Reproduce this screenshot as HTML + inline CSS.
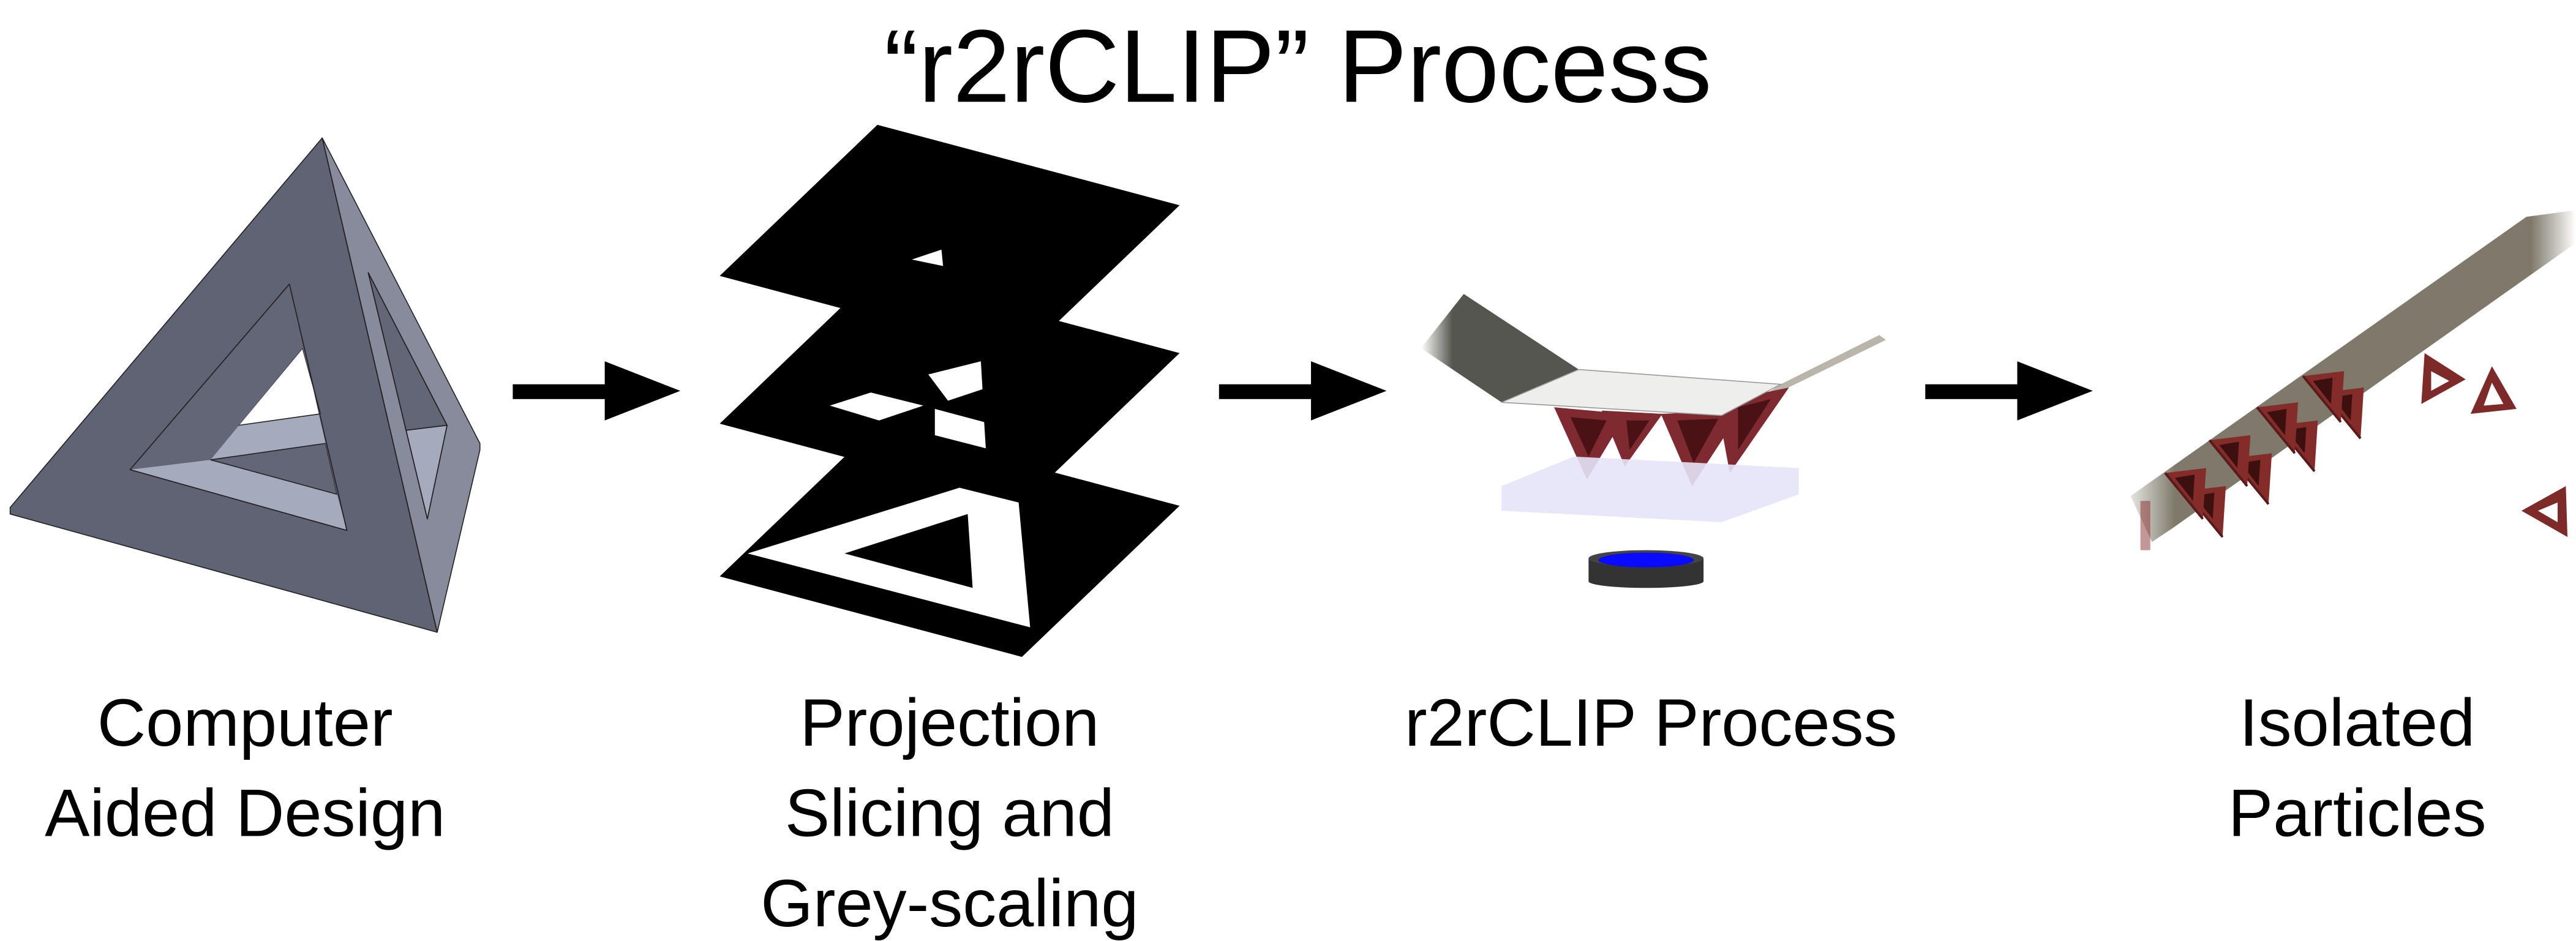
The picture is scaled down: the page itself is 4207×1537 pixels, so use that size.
<!DOCTYPE html>
<html><head><meta charset="utf-8"><style>
html,body{margin:0;padding:0;background:#fff;}
svg{display:block;}
text{font-family:"Liberation Sans",sans-serif;fill:#000;}
</style></head><body>
<svg width="4207" height="1537" viewBox="0 0 1568 573" xmlns="http://www.w3.org/2000/svg">
<defs>
<linearGradient id="strap" x1="0" y1="0" x2="1" y2="0">
<stop offset="0" stop-color="#55564f" stop-opacity="0"/>
<stop offset="0.2" stop-color="#55564f"/>
<stop offset="1" stop-color="#55564f"/>
</linearGradient>
<linearGradient id="band" x1="0" y1="0" x2="1" y2="0">
<stop offset="0" stop-color="#7e796a" stop-opacity="0.2"/>
<stop offset="0.1" stop-color="#7e796a"/>
<stop offset="0.9" stop-color="#7e796a"/>
<stop offset="1" stop-color="#7e796a" stop-opacity="0"/>
</linearGradient>
<g id="pt">
<polygon points="0,0 25,-3 23,28" fill="#842c2a"/>
<polygon points="6,3 18,1 17,17" fill="#3d1010"/>
<line x1="0" y1="0" x2="23" y2="28" stroke="#5a1a1a" stroke-width="1.5"/>
</g>
</defs>
<rect width="1568" height="573" fill="#fff"/>
<text x="790" y="62" font-size="63" text-anchor="middle">“r2rCLIP” Process</text>

<!-- tetrahedron -->
<g stroke="#222" stroke-width="0.6" stroke-linejoin="round">
<polygon points="196,84 6,309 6,313 266,385" fill="#5f6373"/>
<polygon points="196,84 292,270 292,274 266,385" fill="#878b9c"/>
<polygon points="176,173 79,286 211,323" fill="#a6aabd"/>
<polygon points="184,212 145,259 195,252" fill="#ffffff"/>
<polygon points="128,280 198,270 205,301" fill="#626676"/>
<polygon points="224,166 272,259 247,262" fill="#626676"/>
<polygon points="247,262 272,259 260,316" fill="#a6aabd"/>
<polygon points="176,173 79,286 128,280 184,212" fill="#626676" stroke="none"/>
<polygon points="176,173 184,212 195,252 211,323 205,301 198,270" fill="#5f6373" stroke="none"/>
<polyline points="176,173 79,286 211,323 176,173" fill="none"/>
<polyline points="224,166 272,259 260,316 224,166" fill="none"/>
<line x1="196" y1="84" x2="266" y2="385"/>
</g>

<!-- arrows -->
<g fill="#000">
<rect x="312" y="234" width="60" height="9"/><polygon points="368,220 414,238 368,256"/>
<rect x="742" y="234" width="60" height="9"/><polygon points="798,220 844,238 798,256"/>
<rect x="1172" y="234" width="60" height="9"/><polygon points="1228,220 1274,238 1228,256"/>
</g>

<!-- slices -->
<polygon points="534,76 718,125 622,217 438,168" fill="#000"/>
<polygon points="534,166 718,215 622,307 438,258" fill="#000"/>
<polygon points="534,259 718,308 622,400 438,351" fill="#000"/>
<polygon points="555,158 573,152 574,162" fill="#fff"/>
<polygon points="565,228 597,220 598,237 577,244" fill="#fff"/>
<polygon points="505,247 530,239 562,247 535,256" fill="#fff"/>
<polygon points="569,249 599,257 600,273 569,265" fill="#fff"/>
<polygon points="455,337 584,297 620,306 627,382" fill="#fff"/>
<polygon points="514,337 589,313 592,358" fill="#000"/>

<!-- r2rCLIP process -->
<polygon points="891,179 961,225 914,245 865,212" fill="url(#strap)"/>
<polygon points="1084,234 1144,204 1148,207 1060,250" fill="#b9b5aa"/>
<g fill="#7e2a30">
<polygon points="975,250 1012,252 989,284"/>
<polygon points="946,248 990,252 966,292"/>
<polygon points="1045,245 1089,236 1053,288"/>
<polygon points="1011,252 1060,250 1030,296"/>
</g>
<g fill="#4a1214">
<polygon points="956,254 978,256 967,278"/>
<polygon points="990,256 1004,256 992,274"/>
<polygon points="1021,256 1046,255 1031,282"/>
<polygon points="1058,248 1078,243 1058,274"/>
</g>
<polygon points="914,245 961,225 1084,234 1048,253" fill="#eeeeec" stroke="#999" stroke-width="0.6"/>
<polygon points="914,296 958,278 1095,285 1095,301 1048,318 914,311" fill="#e4e4f8" opacity="0.9"/>
<rect x="967" y="340" width="70" height="14" fill="#333"/>
<ellipse cx="1002" cy="354" rx="35" ry="4" fill="#333"/>
<ellipse cx="1002" cy="340" rx="35" ry="5" fill="#444"/>
<ellipse cx="1002" cy="341" rx="29" ry="4.5" fill="#0a0aff"/>

<!-- isolated particles -->
<polygon points="1297,302 1538,132 1568,128 1568,148 1322,322 1310,330" fill="url(#band)"/>
<rect x="1303" y="305" width="6" height="30" fill="#8a3030" opacity="0.5"/>
<use href="#pt" x="1330" y="299"/>
<use href="#pt" x="1358" y="279"/>
<use href="#pt" x="1386" y="259"/>
<use href="#pt" x="1414" y="239"/>
<use href="#pt" x="1318" y="288"/>
<use href="#pt" x="1345" y="268"/>
<use href="#pt" x="1374" y="248"/>
<use href="#pt" x="1402" y="229"/>
<g fill="#7d2a28">
<polygon points="1476,215 1501,231 1474,246"/>
<polygon points="1517,223 1532,249 1504,252"/>
<polygon points="1562,296 1563,327 1535,311"/>
</g>
<g fill="#fff">
<polygon points="1480,226 1491,232 1480,238"/>
<polygon points="1517,233 1524,246 1512,247"/>
<polygon points="1557,306 1557,318 1545,311"/>
</g>

<!-- labels -->
<g font-size="41" text-anchor="middle">
<text x="149" y="454">Computer</text>
<text x="149" y="509">Aided Design</text>
<text x="578" y="454">Projection</text>
<text x="578" y="509">Slicing and</text>
<text x="578" y="564">Grey-scaling</text>
<text x="1005" y="454">r2rCLIP Process</text>
<text x="1435" y="454">Isolated</text>
<text x="1435" y="509">Particles</text>
</g>
</svg>
</body></html>
